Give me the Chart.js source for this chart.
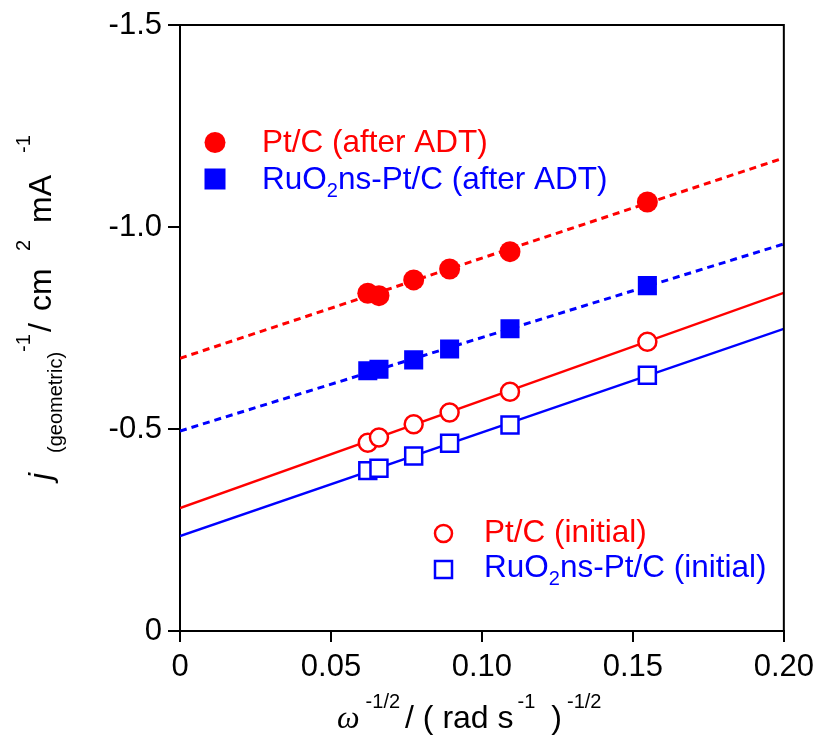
<!DOCTYPE html>
<html>
<head>
<meta charset="utf-8">
<script src="https://cdn.jsdelivr.net/npm/chart.js@4.4.1/dist/chart.umd.min.js"></script>
<style>
body{margin:0;background:#fff}
#kl{display:block}
</style>
</head>
<body>
<canvas id="kl" width="821" height="747"></canvas>
<script>
// Koutecky-Levich plot: inverse current density vs inverse sqrt of rotation rate
const xTickLabels=['0','0.05','0.10','0.15','0.20']
const yTickLabels=['-1.5','-1.0','-0.5','0']
const omega=[0.0622,0.0659,0.0774,0.0893,0.1093,0.1548]
const ptcAfter=[-0.836,-0.830,-0.869,-0.896,-0.939,-1.062]
const ruAfter=[-0.644,-0.648,-0.671,-0.698,-0.748,-0.855]
const ptcInit=[-0.466,-0.479,-0.512,-0.541,-0.592,-0.716]
const ruInit=[-0.397,-0.403,-0.433,-0.465,-0.510,-0.633]
// fitted lines, end points at x = 0 and x = 0.20
const fitX=[0,0.2]
const ptcAfterFit=[-0.675,-1.171]
const ruAfterFit=[-0.495,-0.958]
const ptcInitFit=[-0.304,-0.837]
const ruInitFit=[-0.235,-0.748]

const RED='#ff0000',BLUE='#0000ff'
const SANS="'Liberation Sans', Arial, sans-serif"

function pts(xs,ys){return xs.map((x,i)=>({x:x,y:ys[i]}))}

function markers(data,color,style,r,filled){
return {type:'scatter',data:pts(omega,data),showLine:false,pointStyle:style,pointRadius:r,pointHoverRadius:r,
borderColor:color,backgroundColor:filled?color:'#fff',pointBorderWidth:filled?0:2.5}
}
function fitLine(data,color,dashed){
return {type:'line',data:pts(fitX,data),borderColor:color,borderWidth:dashed?3:2.5,
borderDash:dashed?[7,5]:[],pointRadius:0,fill:false,tension:0}
}

// draw a run of text pieces [text,font,dy,gap] one after another
function drawRuns(ctx,runs,x,y,color){
let cx=x
ctx.fillStyle=color
ctx.textAlign='left'
ctx.textBaseline='alphabetic'
for(const r of runs){
cx+=r[3]||0
ctx.font=r[1]
ctx.fillText(r[0],cx,y+r[2])
cx+=ctx.measureText(r[0]).width
}
}

const big='31.5px '+SANS, small='20px '+SANS, title='32px '+SANS

const decor={
id:'decor',
afterDraw(chart){
const ctx=chart.ctx, a=chart.chartArea
ctx.save()
// top and right frame
ctx.strokeStyle='#000'
ctx.lineWidth=2
ctx.beginPath()
ctx.moveTo(a.left,a.top)
ctx.lineTo(a.right,a.top)
ctx.lineTo(a.right,a.bottom)
ctx.stroke()

// x axis title
drawRuns(ctx,[
['\u03c9',"italic 32px 'Liberation Serif', serif",0,0],
['-1/2',small,-20,6],
['/ ( rad s',title,0,5],
['-1',small,-20,4],
[')',title,0,16],
['-1/2',small,-20,5]
],337,728,'#000')

// y axis title, rotated, positions measured along the axis from the bottom end
ctx.save()
ctx.translate(51,493)
ctx.rotate(-Math.PI/2)
ctx.fillStyle='#000'
ctx.textBaseline='alphabetic'
const yRuns=[
['j','italic 32px '+SANS,0,13],
['(geometric)','20px '+SANS,11,40],
['-1',small,-21,141],
['/',title,0,161],
['cm',title,0,182],
['2',small,-21,242],
['mA',title,0,270],
['-1',small,-21,340]
]
for(const r of yRuns){ctx.font=r[1];ctx.fillText(r[0],r[3],r[2])}
ctx.restore()

// legend, after ADT
ctx.fillStyle=RED
ctx.beginPath();ctx.arc(215,142.5,10.5,0,Math.PI*2);ctx.fill()
ctx.fillStyle=BLUE
ctx.fillRect(204.5,168.5,21,21)
drawRuns(ctx,[['Pt/C (after ADT)',big,0,0]],262,152,RED)
drawRuns(ctx,[['RuO',big,0,0],['2',small,8,0],['ns-Pt/C (after ADT)',big,0,0]],262,189,BLUE)

// legend, initial
ctx.lineWidth=2.5
ctx.strokeStyle=RED
ctx.beginPath();ctx.arc(443.5,533.5,8.5,0,Math.PI*2);ctx.stroke()
ctx.strokeStyle=BLUE
ctx.strokeRect(435,561,17,17)
drawRuns(ctx,[['Pt/C (initial)',big,0,0]],484,542,RED)
drawRuns(ctx,[['RuO',big,0,0],['2',small,8,0],['ns-Pt/C (initial)',big,0,0]],484,577,BLUE)
ctx.restore()
}
}

new Chart(document.getElementById('kl'),{
data:{datasets:[
markers(ptcAfter,RED,'circle',10.5,true),
markers(ruAfter,BLUE,'rect',13.5,true),
markers(ptcInit,RED,'circle',9,false),
markers(ruInit,BLUE,'rect',12,false),
fitLine(ptcAfterFit,RED,true),
fitLine(ruAfterFit,BLUE,true),
fitLine(ptcInitFit,RED,false),
fitLine(ruInitFit,BLUE,false)
]},
options:{
responsive:false,
animation:false,
layout:{padding:{top:25,right:36,left:0,bottom:0}},
plugins:{legend:{display:false},tooltip:{enabled:false}},
scales:{
x:{type:'linear',position:'bottom',min:0,max:0.2,
afterFit(s){s.height=116},
afterBuildTicks(s){s.ticks=xTickLabels.map((t,i)=>({value:i*0.05}))},
ticks:{color:'#000',font:{family:SANS,size:31},padding:7,maxRotation:0,
callback:(v,i)=>xTickLabels[i]},
grid:{display:true,drawOnChartArea:false,drawTicks:true,tickLength:11,color:'#000',lineWidth:2},
border:{display:true,color:'#000',width:2}
},
y:{type:'linear',position:'left',min:-1.5,max:0,reverse:true,
afterFit(s){s.width=180},
afterBuildTicks(s){s.ticks=yTickLabels.map(t=>({value:parseFloat(t)}))},
ticks:{color:'#000',font:{family:SANS,size:31},padding:6,
callback:(v,i)=>yTickLabels[i]},
grid:{display:true,drawOnChartArea:false,drawTicks:true,tickLength:12,color:'#000',lineWidth:2},
border:{display:true,color:'#000',width:2}
}
}
},
plugins:[decor]
})
</script>
</body>
</html>
